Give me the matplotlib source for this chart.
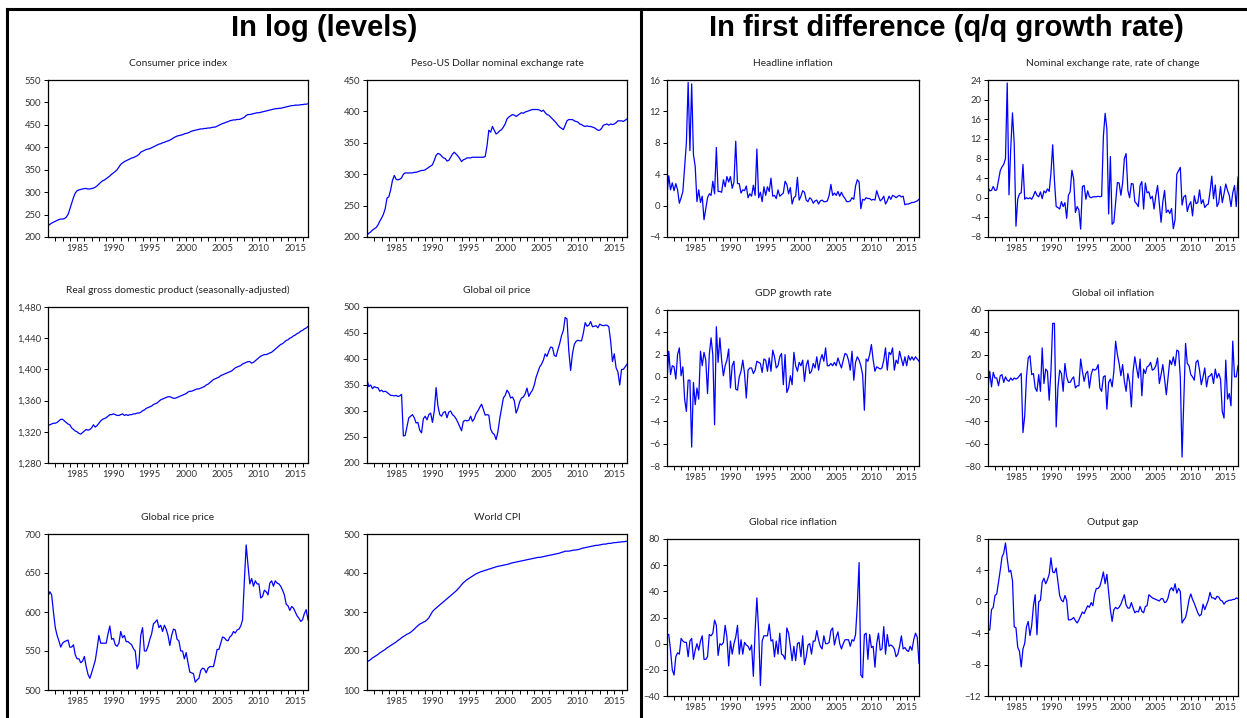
import numpy as np
import matplotlib
matplotlib.use("Agg")
import matplotlib.pyplot as plt
from matplotlib.ticker import FuncFormatter

plt.rcParams['font.family'] = ['Lato', 'DejaVu Sans']

START = 1981  # quarterly data, 1981Q1 - 2016Q4

# ---- levels (log x 100) ----
cpi_log = [225, 228, 231, 233, 235, 237, 239, 240, 240, 241, 244, 250, 262, 275, 288, 298,
           303, 305, 306, 307, 308, 308, 307, 307, 308, 309, 311, 314, 318, 322, 325, 327,
           330, 333, 336, 340, 343, 346, 350, 356, 362, 365, 368, 370, 372, 374, 376, 377,
           379, 381, 384, 389, 391, 393, 395, 396, 397, 399, 401, 403, 405, 407, 408, 410,
           411, 413, 414, 416, 418, 421, 423, 425, 426, 427, 428, 430, 431, 432, 434, 436,
           437, 438, 439, 440, 441, 441, 442, 442, 443, 443, 444, 445, 445, 447, 449, 451,
           453, 454, 456, 457, 459, 460, 461, 461, 462, 462, 463, 465, 467, 471, 473, 473,
           474, 475, 476, 477, 477, 478, 479, 480, 481, 482, 483, 484, 485, 486, 486, 487,
           487, 488, 489, 490, 491, 492, 493, 493, 494, 494, 494, 495, 495, 496, 496, 497]

peso_log = [203, 206, 208, 211, 213, 215, 219, 225, 230, 236, 245, 262, 264, 275, 290, 298,
            292, 291, 292, 294, 300, 302, 302, 302, 302, 302, 303, 303, 304, 305, 306, 306,
            307, 309, 311, 313, 315, 322, 330, 333, 332, 329, 326, 325, 321, 322, 327, 332,
            335, 332, 329, 325, 320, 323, 324, 326, 326, 326, 327, 327, 327, 327, 327, 327,
            327, 328, 345, 370, 367, 376, 370, 364, 366, 369, 371, 375, 380, 388, 391, 393,
            395, 394, 392, 394, 396, 398, 397, 399, 400, 401, 402, 403, 403, 403, 403, 402,
            400, 402, 398, 395, 394, 391, 388, 385, 382, 378, 375, 373, 371, 378, 385, 387,
            387, 387, 385, 384, 383, 380, 379, 377, 376, 377, 376, 376, 375, 374, 372, 370,
            370, 373, 378, 379, 380, 378, 380, 379, 380, 382, 385, 385, 385, 384, 386, 388]

gdp_log = [1328, 1329, 1330, 1331, 1331, 1332, 1334, 1336, 1336, 1334, 1332, 1330, 1329, 1325, 1323, 1321,
           1320, 1318, 1317, 1319, 1321, 1323, 1322, 1323, 1325, 1329, 1326, 1328, 1331, 1334, 1336, 1337,
           1338, 1340, 1342, 1342, 1343, 1342, 1341, 1341, 1342, 1343, 1341, 1342, 1341, 1342, 1342, 1343,
           1343, 1344, 1344, 1345, 1347, 1348, 1350, 1351, 1352, 1353, 1355, 1356, 1357, 1359, 1361, 1362,
           1363, 1364, 1365, 1365, 1364, 1363, 1363, 1364, 1365, 1366, 1367, 1368, 1369, 1371, 1372, 1372,
           1373, 1374, 1375, 1375, 1376, 1377, 1378, 1380, 1381, 1383, 1385, 1387, 1388, 1389, 1390, 1392,
           1393, 1394, 1395, 1396, 1397, 1398, 1400, 1402, 1403, 1404, 1405, 1407, 1408, 1409, 1410, 1410,
           1408, 1409, 1411, 1413, 1415, 1417, 1418, 1419, 1419, 1420, 1421, 1422, 1424, 1426, 1428, 1430,
           1432, 1433, 1435, 1437, 1438, 1440, 1441, 1443, 1444, 1446, 1447, 1449, 1450, 1452, 1453, 1455]

oil_log = [360, 347, 350, 343, 347, 345, 345, 338, 340, 337, 338, 336, 333, 330, 330, 329,
           330, 328, 329, 332, 252, 253, 270, 287, 290, 293, 287, 277, 278, 263, 258, 285,
           290, 283, 293, 296, 278, 300, 345, 310, 293, 290, 297, 299, 287, 298, 300, 293,
           290, 285, 278, 270, 262, 280, 282, 281, 282, 290, 280, 285, 295, 300, 307, 313,
           303, 292, 293, 292, 265, 258, 255, 245, 260, 285, 305, 325, 330, 340, 335, 325,
           327, 320, 296, 305, 318, 325, 327, 333, 344, 328, 335, 340, 350, 365, 375, 385,
           390, 398, 410, 405, 415, 423, 422, 407, 405, 418, 430, 445, 455, 480, 477, 415,
           378, 410, 428, 434, 436, 435, 435, 450, 470, 463, 465, 472, 462, 463, 464, 460,
           467, 465, 464, 465, 465, 462, 435, 395, 410, 383, 375, 350, 380, 380, 385, 390]

rice_log = [620, 626, 622, 600, 580, 570, 563, 555, 560, 562, 563, 564, 555, 555, 558, 545,
            540, 540, 535, 537, 543, 530, 520, 515, 522, 530, 538, 553, 570, 560, 560, 560,
            560, 572, 582, 565, 566, 558, 556, 560, 575, 567, 570, 562, 562, 560, 558, 553,
            550, 527, 533, 570, 580, 550, 550, 556, 565, 572, 585, 587, 590, 580, 583, 575,
            583, 578, 570, 557, 570, 578, 577, 565, 563, 550, 550, 540, 548, 535, 523, 522,
            521, 510, 513, 515, 525, 528, 527, 522, 528, 530, 530, 530, 540, 552, 552, 560,
            568, 567, 564, 563, 568, 570, 575, 573, 577, 578, 582, 590, 640, 686, 660, 636,
            643, 633, 640, 636, 636, 618, 620, 628, 626, 622, 637, 640, 633, 640, 637, 636,
            633, 628, 622, 610, 608, 602, 607, 605, 600, 595, 592, 588, 590, 598, 603, 590]

world_cpi_log = [172, 175, 178, 182, 185, 188, 191, 195, 198, 201, 204, 208, 211, 214, 217, 220,
                 223, 227, 230, 234, 237, 240, 243, 245, 248, 252, 256, 261, 265, 269, 271, 274,
                 276, 280, 285, 293, 301, 306, 310, 314, 318, 322, 326, 330, 334, 338, 342, 346,
                 350, 354, 359, 364, 370, 375, 379, 383, 386, 389, 392, 395, 398, 400, 402, 404,
                 405, 407, 408, 410, 411, 413, 414, 416, 417, 418, 419, 420, 421, 422, 423, 425,
                 426, 427, 428, 429, 430, 431, 432, 433, 434, 435, 436, 437, 438, 439, 440, 440,
                 441, 442, 443, 444, 445, 446, 447, 448, 449, 450, 451, 453, 454, 456, 456, 456,
                 457, 458, 459, 459, 460, 461, 463, 464, 465, 466, 467, 468, 469, 470, 471, 471,
                 472, 473, 474, 474, 475, 476, 476, 477, 478, 478, 479, 479, 480, 480, 481, 481]

# ---- first differences (q/q growth rates) ----
headline_infl = [1.4, 3.8, 2.0, 2.9, 1.9, 2.8, 2.0, 0.3, 1.0, 1.8, 5.0, 8.0, 15.7, 7.0, 15.5, 6.5,
                 5.0, 0.5, 2.0, 0.4, 1.2, -1.8, -0.4, 1.0, 1.5, 1.3, 3.1, 1.5, 7.4, 1.8, 1.8, 1.7,
                 3.3, 2.4, 3.7, 3.0, 3.7, 2.2, 3.0, 8.2, 2.8, 2.8, 1.6, 2.0, 1.9, 2.5, 1.0, 1.5,
                 1.2, 2.6, 1.3, 7.2, 1.0, 1.7, 0.5, 2.4, 1.3, 2.4, 1.8, 3.5, 1.2, 1.3, 0.9, 2.0,
                 1.2, 1.4, 1.6, 3.1, 2.7, 1.5, 2.3, 0.2, 1.0, 1.2, 3.6, 0.7, 1.2, 1.9, 1.7, 0.7,
                 0.5, 1.0, 0.8, 0.3, 0.6, 0.7, 0.2, 0.6, 0.7, 0.5, 0.5, 0.6, 1.3, 2.7, 1.3, 1.6,
                 1.3, 1.8, 1.2, 1.7, 1.2, 0.9, 0.5, 0.5, 0.6, 1.0, 0.8, 2.5, 3.3, 3.0, -0.4, 0.8,
                 0.7, 1.0, 0.9, 0.9, 0.7, 0.8, 0.7, 1.9, 1.2, 0.6, 0.8, 1.2, 0.2, 0.6, 1.2, 0.8,
                 1.3, 1.2, 1.0, 1.2, 1.3, 1.1, 1.2, 0.1, 0.2, 0.2, 0.3, 0.4, 0.4, 0.5, 0.6, 0.8]

ner_change = [2.2, 1.4, 1.5, 2.3, 1.5, 1.6, 3.5, 5.5, 6.3, 6.8, 8.0, 23.4, 0.6, 10.0, 17.3, 11.0,
              -5.8, -0.3, 0.8, 1.0, 6.8, -0.3, 0.0, -0.2, 0.0, -0.3, 0.4, 1.3, 0.5, 0.2, 1.2, -0.2,
              1.4, 1.0, 1.8, 1.3, 5.0, 10.8, 3.5, -1.8, -2.0, -2.3, -0.8, -1.8, -1.0, -4.2, 0.5, 1.2,
              5.6, 3.8, -3.0, -1.8, -2.5, -6.4, 2.3, 2.5, -0.3, 1.4, 0.2, 0.0, 0.2, 0.2, 0.2, 0.3,
              0.2, 0.3, 12.5, 17.2, 14.0, -3.3, 8.4, -5.4, -5.0, -1.0, 3.1, 3.0, 0.5, 3.0, 8.0, 9.0,
              1.5, 0.0, 2.9, 2.8, -0.8, -1.2, -1.8, 2.5, 3.3, -2.3, 3.0, 1.0, 1.2, -0.2, 0.3, -2.3,
              0.5, 2.5, -1.2, -5.0, -0.8, 1.5, -3.0, -2.5, -3.2, -2.2, -6.3, -4.5, 4.8, 5.5, 6.2, -1.5,
              0.2, 0.5, -2.8, -1.5, -0.8, -3.7, 0.4, -1.2, -1.0, 1.6, -1.2, -0.4, -2.0, -1.5, -1.3, 1.2,
              4.4, -0.2, 2.6, -1.8, -1.0, 2.3, -1.0, 0.8, 2.8, 1.5, 0.5, -1.8, 1.0, 2.5, -1.8, 4.2]

gdp_growth = [-0.3, 2.3, 0.2, 1.0, 0.9, -0.2, 2.0, 2.6, 0.1, 0.9, -2.0, -3.1, -0.3, -0.3, -6.3, -0.5,
              -2.5, -1.0, -2.0, 2.3, 1.0, 2.2, 1.5, -1.5, 2.0, 3.5, 2.0, -4.3, 4.5, 1.3, 3.5, 1.5,
              0.1, 1.0, 1.5, 2.5, -1.0, 1.0, 1.4, -1.1, -1.2, 0.0, 0.5, 1.5, 0.3, -1.9, 0.6, 0.8,
              0.8, 0.3, 0.6, 1.4, 1.3, 1.2, 0.4, 1.6, 1.5, 0.5, 1.7, 0.5, 2.4, 1.8, 0.8, 1.0,
              1.8, 2.1, -0.7, 2.0, -1.4, -1.0, 0.1, -0.7, 2.2, 1.0, 0.5, 1.3, 1.0, 1.5, -0.4, 1.0,
              1.5, 0.3, 0.5, 1.2, 0.8, 1.8, 0.6, 1.5, 2.0, 1.4, 2.6, 1.0, 1.0, 1.2, 1.0, 1.3,
              1.0, 1.7, 1.2, 0.8, 1.5, 2.1, 2.0, 1.5, 0.6, 2.3, -0.3, 1.3, 1.8, 1.5, 1.0, 0.2,
              -3.0, 1.6, 1.4, 2.0, 2.9, 1.5, 0.5, 0.9, 0.8, 0.7, 0.8, 1.5, 2.6, 0.6, 2.2, 2.0,
              2.6, 0.6, 1.5, 1.2, 2.3, 1.6, 1.0, 1.8, 1.0, 1.9, 1.5, 1.8, 1.5, 1.8, 1.6, 1.4]

oil_infl = [-10, 5, -9, 4, -1, -1, -8, 1, 2, -5, 0, -3, -4, -1, -3, -1,
            -2, -1, 1, 3, -50, -35, 0, 17, 19, 2, 3, -10, -13, 2, -13, 26,
            -6, 7, 5, -21, 5, 48, 48, -45, -10, 6, 3, -13, 12, 0, -5, -5,
            -2, 0, -10, -8, -8, 16, 5, -4, 3, 5, -10, 2, 7, 6, 7, 11,
            -10, -13, 0, 1, -29, -5, -2, -9, 5, 32, 20, 12, 1, 11, -4, -13,
            3, -5, -27, 5, 18, 8, -1, 16, -17, 7, 3, 9, 10, 13, 6, 7,
            10, 17, -6, 2, 11, -2, -16, 0, 15, 11, 18, 10, 24, 23, 0, -72,
            -20, 30, 12, 10, 2, 0, -3, 13, 15, 6, -7, 0, 8, -9, 0, 1,
            3, -6, 7, -1, 3, -2, -31, -37, 15, -20, -15, -26, 32, 0, 0, 10]

rice_infl = [7, 7, -5, -20, -24, -10, -7, -8, 4, 2, 1, 1, -10, 2, 4, -12,
             -5, 0, -5, 2, 6, -12, -12, -10, 7, 6, 8, 18, 14, -9, 0, -1,
             1, 14, 5, -17, 2, -8, 0, 5, 14, -8, 3, -8, 1, -1, -2, -5,
             -1, -25, 10, 35, 10, -32, 2, 6, 6, 6, 15, 2, 3, -10, 2, -8,
             8, -8, -9, -12, 12, 8, -2, -13, -2, -13, 0, 1, -10, 6, -16, -10,
             -1, 0, -8, 2, 2, 10, 3, -2, -4, 6, 0, 0, 1, 10, 12, -1,
             5, 9, 0, -4, 0, 3, 3, 3, -2, 3, 2, 7, 30, 62, -24, -26,
             7, 8, -12, 7, -3, -2, -18, 0, 8, -5, -4, 13, -8, 7, -2, -1,
             -2, -4, -10, -8, -2, 6, -4, -3, -5, -6, -2, -5, 3, 8, 5, -15]

output_gap = [-3.5, -3.6, -1.0, -0.7, 0.8, 1.0, 2.5, 4.0, 5.7, 6.2, 7.5, 5.5, 3.8, 4.0, 2.7, -3.2,
              -3.3, -5.8, -6.3, -8.3, -6.0, -5.3, -3.2, -2.5, -4.3, -3.0, -0.5, 0.9, -4.2, 0.0, 0.2, 2.5,
              3.0, 2.3, 2.8, 3.5, 5.6, 3.8, 3.7, 4.3, 2.5, 0.8, 0.2, 0.0, 0.8, 0.2, -2.3, -2.3,
              -2.2, -2.0, -2.4, -2.7, -2.3, -1.8, -1.3, -1.5, -1.0, -0.5, -0.7, -0.1, -0.5, 1.0, 1.7, 1.7,
              2.0, 2.8, 3.8, 2.3, 3.5, 1.3, -1.0, -2.5, -1.0, -0.7, -0.9, -0.7, -0.3, 0.3, 0.9, -0.4,
              -0.8, -0.8, -0.1, -0.8, -1.4, -1.2, -1.3, -0.6, -1.2, -1.4, -0.6, -0.5, 0.9, 0.7, 0.5, 0.4,
              0.3, 0.2, 0.1, 0.4, 0.4, -0.1, 0.0, 0.5, 1.5, 1.8, 1.4, 2.3, 1.1, 1.7, 1.3, -2.7,
              -2.3, -2.0, -1.0, 0.3, 1.0, 0.3, -0.2, -0.8, -1.4, -1.8, -1.6, -0.3, -1.0, -0.4, 0.2, 1.2,
              0.5, 0.5, 0.3, 0.7, 0.6, 0.2, 0.1, -0.3, 0.0, 0.1, 0.2, 0.2, 0.3, 0.3, 0.5, 0.4]

W, H = 1247, 718
fig = plt.figure(figsize=(W / 100, H / 100), dpi=100)


def panel(box, values, title, yticks, comma=False):
    l, t, r, b = box
    ax = fig.add_axes([l / W, 1 - b / H, (r - l) / W, (b - t) / H])
    dates = START + np.arange(len(values)) / 4.0
    ax.plot(dates, values, color='#0000ff', lw=0.9)
    ax.set_xlim(START, 2016.75)
    ax.set_ylim(yticks[0], yticks[-1])
    ax.set_yticks(yticks)
    ax.set_xticks(range(1985, 2017, 5))
    ax.set_xticks(range(1982, 2017), minor=True)
    if comma:
        ax.yaxis.set_major_formatter(FuncFormatter(lambda v, p: f"{v:,.0f}"))
    ax.tick_params(which='both', direction='out', length=3, width=0.7,
                   labelsize=6.8, labelcolor='#333333', pad=2)
    for s in ax.spines.values():
        s.set_linewidth(0.9)
    ax.set_title(title, fontsize=7.4, color='#222222', pad=10)
    return ax


L1, L2 = (48, 308), (367, 627)
R1, R2 = (667, 919), (988, 1238)
LROWS = [(80, 237), (307, 463), (534, 690)]
RROWS = [(80, 237), (310, 466), (539, 696)]


def box(col, row):
    return (col[0], row[0], col[1], row[1])


panel(box(L1, LROWS[0]), cpi_log, "Consumer price index", list(range(200, 551, 50)))
panel(box(L2, LROWS[0]), peso_log, "Peso-US Dollar nominal exchange rate", list(range(200, 451, 50)))
panel(box(L1, LROWS[1]), gdp_log, "Real gross domestic product (seasonally-adjusted)",
      list(range(1280, 1481, 40)), comma=True)
panel(box(L2, LROWS[1]), oil_log, "Global oil price", list(range(200, 501, 50)))
panel(box(L1, LROWS[2]), rice_log, "Global rice price", list(range(500, 701, 50)))
panel(box(L2, LROWS[2]), world_cpi_log, "World CPI", list(range(100, 501, 100)))

panel(box(R1, RROWS[0]), headline_infl, "Headline inflation", list(range(-4, 17, 4)))
panel(box(R2, RROWS[0]), ner_change, "Nominal exchange rate, rate of change", list(range(-8, 25, 4)))
panel(box(R1, RROWS[1]), gdp_growth, "GDP growth rate", list(range(-8, 7, 2)))
panel(box(R2, RROWS[1]), oil_infl, "Global oil inflation", list(range(-80, 61, 20)))
panel(box(R1, RROWS[2]), rice_infl, "Global rice inflation", list(range(-40, 81, 20)))
panel(box(R2, RROWS[2]), output_gap, "Output gap", list(range(-12, 9, 4)))

# section headings and frame
fig.text(324 / W, 1 - 28 / H, "In log (levels)", ha='center', va='center',
         fontsize=21, fontweight='bold', family='Liberation Sans')
fig.text(946 / W, 1 - 28 / H, "In first difference (q/q growth rate)", ha='center', va='center',
         fontsize=21, fontweight='bold', family='Liberation Sans')

frame = dict(color='black', lw=2.2, transform=fig.transFigure, clip_on=False)
fig.add_artist(plt.Line2D([7 / W, 1], [1 - 9 / H, 1 - 9 / H], **frame))
fig.add_artist(plt.Line2D([7 / W, 7 / W], [0, 1 - 9 / H], **frame))
fig.add_artist(plt.Line2D([641 / W, 641 / W], [0, 1 - 9 / H], **frame))

fig.savefig("out.png", dpi=100)
